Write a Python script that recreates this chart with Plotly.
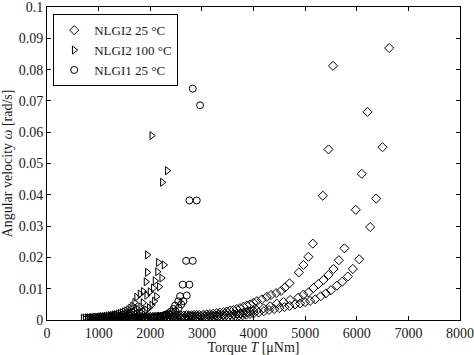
import plotly.graph_objects as go

# ---------------- data ----------------
# NLGI2 25 °C : three runs (a, b, c) shown as one series
x_nlgi2_25_a = [1400, 1450, 1500, 1550, 1600, 1650, 1700, 1750, 1800, 1850, 1900, 1950, 2000, 2050, 2100, 2150,
                2200, 2250, 2300, 2350, 2400, 2450, 2500, 2550, 2600, 2650, 2700, 2750, 2800, 2850, 2900, 2950,
                3030, 3095, 3159, 3220, 3288, 3350, 3418, 3480, 3547, 3610, 3676, 3740, 3805, 3870, 3934, 4000, 4064,
                4161, 4258, 4340, 4438, 4534, 4612, 4697, 4878, 4967, 5064, 5149, 5343, 5452, 5540]
y_nlgi2_25_a = [0.0006, 0.0006, 0.0007, 0.0007, 0.0007, 0.0008, 0.0008, 0.0008, 0.0009, 0.0009, 0.0009, 0.0010, 0.0010, 0.0010, 0.0011, 0.0011,
                0.0011, 0.0012, 0.0012, 0.0012, 0.0013, 0.0013, 0.0013, 0.0014, 0.0014, 0.0014, 0.0015, 0.0015, 0.0015, 0.0016, 0.0016, 0.0016,
                0.0017, 0.0018, 0.0019, 0.0020, 0.0022, 0.0023, 0.0025, 0.0027, 0.0030, 0.0032, 0.0035, 0.0038, 0.0042, 0.0046, 0.0050, 0.0055, 0.0060,
                0.0066, 0.0074, 0.0080, 0.0086, 0.0093, 0.0104, 0.0117, 0.0152, 0.0176, 0.0202, 0.0244, 0.0397, 0.0545, 0.0812]

x_nlgi2_25_b = [1600, 1660, 1720, 1780, 1840, 1900, 1960, 2020, 2080, 2140, 2200, 2260, 2320, 2380, 2440, 2500,
                2560, 2620, 2680, 2740, 2800, 2860, 2920, 2980, 3040, 3100, 3160, 3220,
                3290, 3350, 3418, 3480, 3547, 3610, 3676, 3740, 3805, 3870, 3934, 4000, 4064,
                4193, 4322, 4451, 4580, 4709, 4870, 4967, 5064, 5161, 5258, 5355, 5452, 5549, 5653, 5762, 5982, 6098, 6208]
y_nlgi2_25_b = [0.0004, 0.0004, 0.0005, 0.0005, 0.0005, 0.0006, 0.0006, 0.0006, 0.0007, 0.0007, 0.0007, 0.0008, 0.0008, 0.0008, 0.0009, 0.0009,
                0.0009, 0.0010, 0.0010, 0.0010, 0.0011, 0.0011, 0.0011, 0.0012, 0.0012, 0.0012, 0.0013, 0.0013,
                0.0014, 0.0015, 0.0015, 0.0016, 0.0017, 0.0018, 0.0020, 0.0021, 0.0023, 0.0025, 0.0027, 0.0029, 0.0031,
                0.0037, 0.0044, 0.0052, 0.0057, 0.0064, 0.0072, 0.0081, 0.0088, 0.0102, 0.0115, 0.0128, 0.0144, 0.0163, 0.0191, 0.0229, 0.0352, 0.0467, 0.0665]

x_nlgi2_25_c = [1900, 1970, 2040, 2110, 2180, 2250, 2320, 2390, 2460, 2530, 2600, 2670, 2740, 2810, 2880, 2950,
                3020, 3090, 3160, 3230, 3300, 3370, 3440, 3510, 3580, 3650, 3720, 3790, 3860, 3930, 4000,
                4100, 4200, 4300, 4400, 4500, 4600, 4700,
                4806, 4903, 4999, 5097, 5194, 5303, 5400, 5500, 5614, 5717, 5827, 5924, 6047, 6260, 6376, 6499, 6628]
y_nlgi2_25_c = [0.0003, 0.0003, 0.0003, 0.0004, 0.0004, 0.0004, 0.0005, 0.0005, 0.0005, 0.0006, 0.0006, 0.0006, 0.0007, 0.0007, 0.0007, 0.0008,
                0.0008, 0.0008, 0.0009, 0.0009, 0.0010, 0.0010, 0.0011, 0.0011, 0.0012, 0.0013, 0.0014, 0.0015, 0.0017, 0.0019, 0.0021,
                0.0024, 0.0028, 0.0032, 0.0035, 0.0038, 0.0041, 0.0045,
                0.0050, 0.0053, 0.0057, 0.0061, 0.0066, 0.0076, 0.0085, 0.0095, 0.0110, 0.0122, 0.0139, 0.0163, 0.0194, 0.0297, 0.0388, 0.0552, 0.0869]

# NLGI2 100 °C : three runs
x_nlgi2_100_a = [700, 740, 780, 820, 860, 900, 940, 980, 1020, 1060, 1100, 1140, 1180, 1220, 1260, 1300,
                 1340, 1380, 1420, 1460, 1500, 1540, 1580, 1620, 1660,
                 1700, 1737, 1802, 1866, 1918, 1944, 1944, 2029]
y_nlgi2_100_a = [0.0006, 0.0006, 0.0007, 0.0007, 0.0008, 0.0008, 0.0009, 0.0009, 0.0010, 0.0011, 0.0011, 0.0012, 0.0013, 0.0014, 0.0015, 0.0016,
                 0.0017, 0.0019, 0.0021, 0.0023, 0.0026, 0.0029, 0.0033, 0.0038, 0.0045,
                 0.0056, 0.0073, 0.0083, 0.0091, 0.0122, 0.0152, 0.0208, 0.0589]

x_nlgi2_100_b = [780, 825, 870, 915, 960, 1005, 1050, 1095, 1140, 1185, 1230, 1275, 1320, 1365, 1410, 1455,
                 1500, 1545, 1590, 1635, 1680, 1725, 1770, 1815, 1860,
                 1931, 1995, 2060, 2093, 2141, 2157, 2235]
y_nlgi2_100_b = [0.0005, 0.0005, 0.0006, 0.0006, 0.0007, 0.0007, 0.0008, 0.0008, 0.0009, 0.0009, 0.0010, 0.0011, 0.0012, 0.0013, 0.0014, 0.0015,
                 0.0016, 0.0018, 0.0020, 0.0022, 0.0025, 0.0029, 0.0034, 0.0042, 0.0055,
                 0.0079, 0.0090, 0.0102, 0.0125, 0.0154, 0.0184, 0.0440]

x_nlgi2_100_c = [880, 930, 980, 1030, 1080, 1130, 1180, 1230, 1280, 1330, 1380, 1430, 1480, 1530, 1580, 1630,
                 1680, 1730, 1780, 1830, 1880, 1930, 1980, 2030, 2080,
                 2120, 2177, 2222, 2267, 2332]
y_nlgi2_100_c = [0.0004, 0.0004, 0.0005, 0.0005, 0.0006, 0.0006, 0.0007, 0.0007, 0.0008, 0.0008, 0.0009, 0.0010, 0.0011, 0.0012, 0.0013, 0.0014,
                 0.0016, 0.0018, 0.0020, 0.0023, 0.0027, 0.0032, 0.0039, 0.0048, 0.0060,
                 0.0075, 0.0106, 0.0134, 0.0176, 0.0477]

# NLGI1 25 °C : two runs
x_nlgi1_25_a = [1250, 1300, 1350, 1400, 1450, 1500, 1550, 1600, 1650, 1700, 1750, 1800, 1850, 1900, 1950, 2000,
                2050, 2100, 2150, 2200, 2250, 2300, 2350, 2400, 2450,
                2481, 2545, 2578, 2629, 2694, 2758, 2823]
y_nlgi1_25_a = [0.0003, 0.0003, 0.0003, 0.0004, 0.0004, 0.0004, 0.0005, 0.0005, 0.0005, 0.0006, 0.0006, 0.0006, 0.0007, 0.0007, 0.0008, 0.0008,
                0.0009, 0.0010, 0.0011, 0.0012, 0.0014, 0.0017, 0.0021, 0.0027, 0.0035,
                0.0046, 0.0060, 0.0076, 0.0113, 0.0189, 0.0382, 0.0739]

x_nlgi1_25_b = [1350, 1410, 1470, 1530, 1590, 1650, 1710, 1770, 1830, 1890, 1950, 2010, 2070, 2130, 2190, 2250,
                2310, 2370, 2430, 2490, 2550,
                2600, 2642, 2707, 2758, 2823, 2901, 2965]
y_nlgi1_25_b = [0.0003, 0.0003, 0.0003, 0.0004, 0.0004, 0.0004, 0.0005, 0.0005, 0.0005, 0.0006, 0.0006, 0.0007, 0.0008, 0.0009, 0.0010, 0.0012,
                0.0014, 0.0017, 0.0022, 0.0028, 0.0038,
                0.0050, 0.0060, 0.0078, 0.0113, 0.0189, 0.0382, 0.0686]

series_names = ["NLGI2 25 °C", "NLGI2 100 °C", "NLGI1 25 °C"]
x_ticks = [0, 1000, 2000, 3000, 4000, 5000, 6000, 7000, 8000]
y_ticks = [0, 0.01, 0.02, 0.03, 0.04, 0.05, 0.06, 0.07, 0.08, 0.09, 0.1]

for a, b in [(x_nlgi2_25_a, y_nlgi2_25_a), (x_nlgi2_25_b, y_nlgi2_25_b), (x_nlgi2_25_c, y_nlgi2_25_c),
             (x_nlgi2_100_a, y_nlgi2_100_a), (x_nlgi2_100_b, y_nlgi2_100_b), (x_nlgi2_100_c, y_nlgi2_100_c),
             (x_nlgi1_25_a, y_nlgi1_25_a), (x_nlgi1_25_b, y_nlgi1_25_b)]:
    assert len(a) == len(b), (len(a), len(b))

x_nlgi2_25 = x_nlgi2_25_a + x_nlgi2_25_b + x_nlgi2_25_c
y_nlgi2_25 = y_nlgi2_25_a + y_nlgi2_25_b + y_nlgi2_25_c
x_nlgi2_100 = x_nlgi2_100_a + x_nlgi2_100_b + x_nlgi2_100_c
y_nlgi2_100 = y_nlgi2_100_a + y_nlgi2_100_b + y_nlgi2_100_c
x_nlgi1_25 = x_nlgi1_25_a + x_nlgi1_25_b
y_nlgi1_25 = y_nlgi1_25_a + y_nlgi1_25_b

FONT = "Liberation Serif"
TXT = "#1a1a1a"

fig = go.Figure()
for xs, ys, name, sym in [
    (x_nlgi2_25, y_nlgi2_25, series_names[0], "diamond-open"),
    (x_nlgi2_100, y_nlgi2_100, series_names[1], "triangle-right-open"),
    (x_nlgi1_25, y_nlgi1_25, series_names[2], "circle-open"),
]:
    fig.add_trace(go.Scatter(
        x=xs, y=ys, mode="markers", name=name,
        marker=dict(symbol=sym, size=7, color="black", line=dict(color="black", width=1)),
    ))

axis_common = dict(
    showline=True, linecolor="black", linewidth=1, mirror="ticks",
    ticks="inside", ticklen=4, tickcolor="black", showgrid=False, zeroline=False,
    tickfont=dict(family=FONT, size=14, color=TXT),
    automargin=False, ticklabeloverflow="allow",
)

fig.update_layout(
    width=474, height=355,
    margin=dict(l=47, r=14, t=7, b=35, autoexpand=False),
    paper_bgcolor="white", plot_bgcolor="white",
    font=dict(family=FONT, size=14, color=TXT),
    showlegend=True,
    legend=dict(
        x=0.015, y=0.977, xanchor="left", yanchor="top",
        bgcolor="white", bordercolor="black", borderwidth=1,
        font=dict(family=FONT, size=13, color=TXT),
        tracegroupgap=0, itemsizing="trace", itemwidth=30,
    ),
    xaxis=dict(
        range=[0, 8000], tickvals=x_ticks, ticktext=[str(v) for v in x_ticks],
        title=dict(text="Torque <i>T</i> [μNm]", standoff=2, font=dict(family=FONT, size=14, color=TXT)),
        **axis_common,
    ),
    yaxis=dict(
        range=[0, 0.1], tickvals=y_ticks, ticktext=["0"] + [f"{v:g}" for v in y_ticks[1:]],
        title=dict(text="Angular velocity <i>ω</i> [rad/s]", standoff=2, font=dict(family=FONT, size=14, color=TXT)),
        **axis_common,
    ),
)

fig.write_html(
    "out.html",
    config={"displayModeBar": False},
    post_script="document.body.style.margin='0';document.body.style.overflow='hidden';",
)
